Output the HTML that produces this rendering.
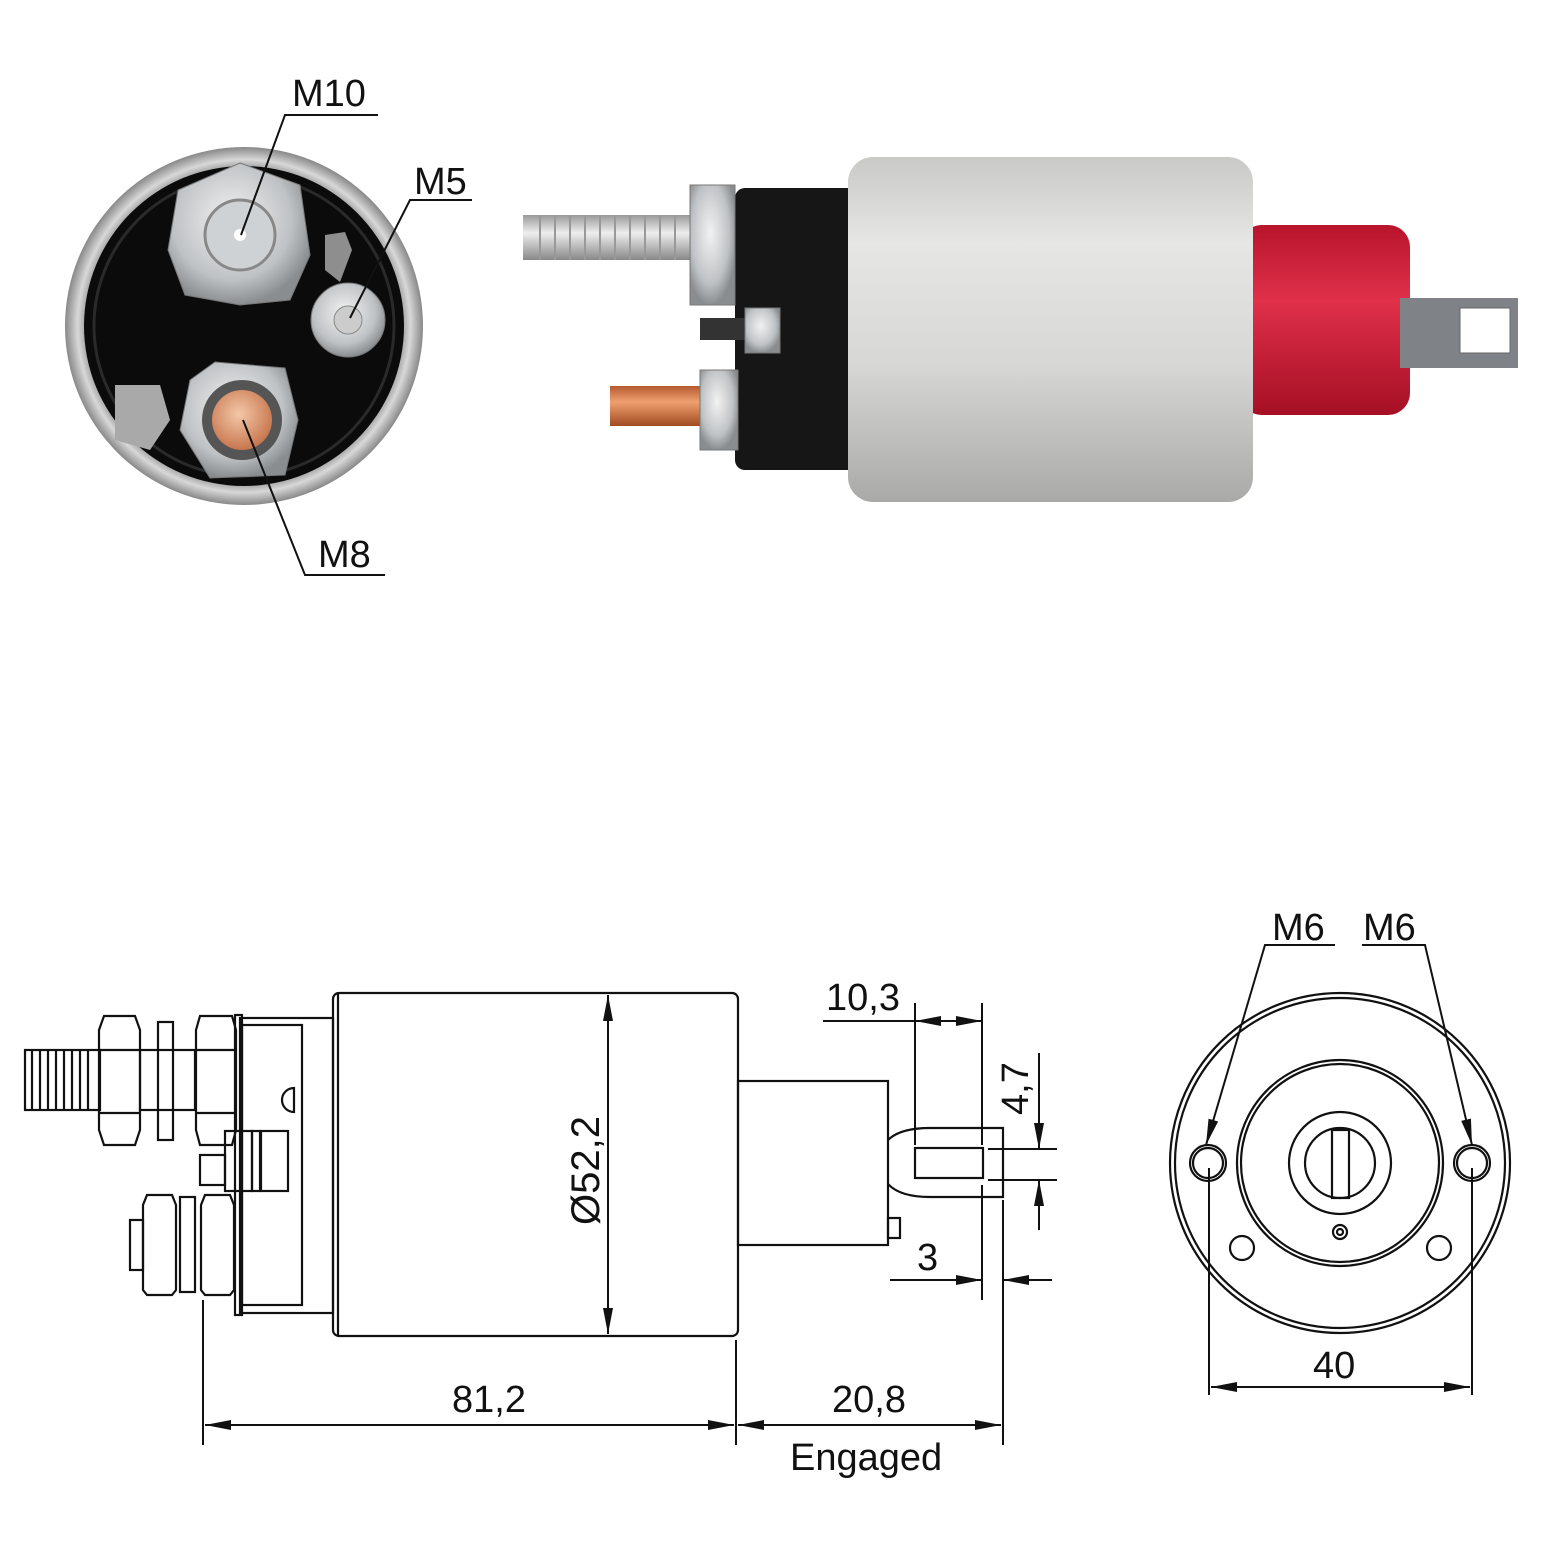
<!DOCTYPE html>
<html><head><meta charset="utf-8"><style>
html,body{margin:0;padding:0;background:#fff}
svg{display:block}
text{font-family:"Liberation Sans",sans-serif;fill:#111}
</style></head><body>
<svg width="1550" height="1550" viewBox="0 0 1550 1550" xmlns="http://www.w3.org/2000/svg">
<defs>
<radialGradient id="rim" cx="50%" cy="50%" r="50%">
<stop offset="85%" stop-color="#777"/><stop offset="93%" stop-color="#d8d8d8"/><stop offset="100%" stop-color="#888"/>
</radialGradient>
<radialGradient id="nut" cx="45%" cy="40%" r="60%">
<stop offset="0%" stop-color="#f2f2f2"/><stop offset="70%" stop-color="#bfc2c5"/><stop offset="100%" stop-color="#8a8d90"/>
</radialGradient>
<radialGradient id="cu" cx="45%" cy="40%" r="60%">
<stop offset="0%" stop-color="#f3c8a8"/><stop offset="100%" stop-color="#c8764f"/>
</radialGradient>
<linearGradient id="body" x1="0" y1="0" x2="0" y2="1">
<stop offset="0%" stop-color="#c9c9c7"/><stop offset="25%" stop-color="#e6e6e4"/><stop offset="60%" stop-color="#d7d7d5"/><stop offset="100%" stop-color="#a9a9a7"/>
</linearGradient>
<linearGradient id="red" x1="0" y1="0" x2="0" y2="1">
<stop offset="0%" stop-color="#b8142c"/><stop offset="40%" stop-color="#e0304a"/><stop offset="100%" stop-color="#a50f24"/>
</linearGradient>
<linearGradient id="stud" x1="0" y1="0" x2="0" y2="1">
<stop offset="0%" stop-color="#999"/><stop offset="40%" stop-color="#eee"/><stop offset="100%" stop-color="#888"/>
</linearGradient>
<linearGradient id="cust" x1="0" y1="0" x2="0" y2="1">
<stop offset="0%" stop-color="#b45a30"/><stop offset="40%" stop-color="#f0a070"/><stop offset="100%" stop-color="#a04a20"/>
</linearGradient>
<marker id="ar" viewBox="0 0 26 10" refX="26" refY="5" markerWidth="26" markerHeight="10" preserveAspectRatio="none" orient="auto-start-reverse" markerUnits="userSpaceOnUse"><path d="M0,0 L26,5 L0,10 z" fill="#111"/></marker>
</defs>

<circle cx="244" cy="326" r="179" fill="url(#rim)"/>
<circle cx="244" cy="326" r="160" fill="#0b0b0b"/>
<circle cx="244" cy="326" r="150" fill="none" stroke="#2a2a2a" stroke-width="3"/>
<polygon points="240,163 300,185 310,255 290,300 240,305 185,295 168,250 178,190" fill="url(#nut)" stroke="#777"/>
<circle cx="240" cy="235" r="35" fill="#cfd2d4" stroke="#888" stroke-width="3"/>
<circle cx="240" cy="235" r="6" fill="#fff"/>
<path d="M325,235 L345,232 L352,250 L340,282 L325,270 Z" fill="#8e8e8e"/>
<circle cx="348" cy="320" r="37" fill="url(#nut)" stroke="#777"/>
<circle cx="348" cy="320" r="14" fill="#ccc" stroke="#888"/>
<path d="M115,385 L160,385 L170,420 L150,450 L115,440 Z" fill="#a9a9a9"/>
<polygon points="215,362 285,368 298,420 285,475 210,478 180,430 190,380" fill="url(#nut)" stroke="#777"/>
<circle cx="242" cy="420" r="40" fill="#555"/>
<circle cx="242" cy="420" r="30" fill="url(#cu)"/>

<g stroke="#111" stroke-width="2" fill="none">
<polyline points="378,115 285,115 241,235"/>
<polyline points="472,200 410,200 350,318"/>
<polyline points="385,575 305,575 243,420"/>
</g>
<text x="292" y="106" font-size="38">M10</text>
<text x="414" y="194" font-size="38">M5</text>
<text x="318" y="567" font-size="38">M8</text>

<rect x="1240" y="225" width="170" height="190" rx="22" fill="url(#red)"/>
<rect x="1400" y="298" width="118" height="70" fill="#7f8286"/>
<rect x="1460" y="308" width="50" height="45" fill="#fff" stroke="#666"/>
<rect x="735" y="188" width="125" height="282" rx="10" fill="#161616"/>
<rect x="848" y="157" width="405" height="345" rx="25" fill="url(#body)"/>
<rect x="523" y="215" width="180" height="45" fill="url(#stud)"/>
<g stroke="#999" stroke-width="2">
<line x1="540" y1="215" x2="540" y2="260"/><line x1="555" y1="215" x2="555" y2="260"/><line x1="570" y1="215" x2="570" y2="260"/><line x1="585" y1="215" x2="585" y2="260"/><line x1="600" y1="215" x2="600" y2="260"/><line x1="615" y1="215" x2="615" y2="260"/><line x1="630" y1="215" x2="630" y2="260"/><line x1="645" y1="215" x2="645" y2="260"/><line x1="660" y1="215" x2="660" y2="260"/><line x1="675" y1="215" x2="675" y2="260"/>
</g>
<rect x="690" y="185" width="45" height="120" fill="url(#nut)" stroke="#777"/>
<rect x="700" y="318" width="60" height="22" fill="#333"/>
<rect x="745" y="308" width="35" height="45" fill="url(#nut)" stroke="#777"/>
<rect x="610" y="386" width="95" height="40" fill="url(#cust)"/>
<rect x="700" y="370" width="38" height="80" fill="url(#nut)" stroke="#777"/>

<g stroke="#111" stroke-width="2.2" fill="none">
<rect x="333" y="993" width="405" height="343" rx="6"/>
<line x1="338" y1="993" x2="338" y2="1336"/>
<rect x="240" y="1018" width="93" height="295"/>
<rect x="242" y="1025" width="60" height="280"/>
<rect x="235" y="1015" width="7" height="300"/>
<rect x="25" y="1050" width="75" height="60"/>
<path d="M32,1050 v60 M40,1050 v60 M48,1050 v60 M56,1050 v60 M64,1050 v60 M72,1050 v60 M80,1050 v60 M88,1050 v60"/>
<polygon points="104,1016 135,1016 140,1030 140,1130 135,1145 104,1145 99,1130 99,1030"/>
<line x1="99" y1="1050" x2="140" y2="1050"/><line x1="99" y1="1113" x2="140" y2="1113"/>
<rect x="140" y="1050" width="55" height="60"/>
<rect x="158" y="1022" width="15" height="118"/>
<polygon points="200,1016 232,1016 236,1030 236,1130 232,1145 200,1145 196,1130 196,1030"/>
<line x1="196" y1="1050" x2="236" y2="1050"/><line x1="196" y1="1113" x2="236" y2="1113"/>
<rect x="225" y="1131" width="27" height="60"/>
<rect x="252" y="1131" width="8" height="60"/>
<rect x="261" y="1131" width="27" height="60"/>
<rect x="200" y="1155" width="25" height="30"/>
<polygon points="147,1195 172,1195 176,1205 176,1290 172,1295 147,1295 143,1290 143,1205"/>
<rect x="130" y="1220" width="13" height="50"/>
<rect x="180" y="1197" width="15" height="95"/>
<polygon points="205,1195 230,1195 234,1205 234,1290 230,1295 205,1295 201,1290 201,1205"/>
<path d="M282,1100 a12,12 0 0 1 12,-12 v24 a12,12 0 0 1 -12,-12z"/>
<rect x="738" y="1081" width="150" height="164"/>
<rect x="888" y="1218" width="12" height="20"/>
<path d="M888,1140 Q900,1128 930,1128 L1003,1128 L1003,1197 L930,1197 Q900,1197 888,1184"/>
<rect x="915" y="1148" width="68" height="30"/>
</g>
<g stroke="#111" stroke-width="2" fill="none">
<line x1="608" y1="995" x2="608" y2="1334" marker-start="url(#ar)" marker-end="url(#ar)"/>
<line x1="203" y1="1300" x2="203" y2="1445"/>
<line x1="736" y1="1340" x2="736" y2="1445"/>
<line x1="1003" y1="1200" x2="1003" y2="1445"/>
<line x1="205" y1="1425" x2="734" y2="1425" marker-start="url(#ar)" marker-end="url(#ar)"/>
<line x1="738" y1="1425" x2="1001" y2="1425" marker-start="url(#ar)" marker-end="url(#ar)"/>
<line x1="915" y1="1003" x2="915" y2="1145"/>
<line x1="982" y1="1003" x2="982" y2="1145"/>
<line x1="982" y1="1185" x2="982" y2="1300"/>
<line x1="823" y1="1021" x2="915" y2="1021"/>
<line x1="915" y1="1021" x2="948" y2="1021" marker-start="url(#ar)"/>
<line x1="948" y1="1021" x2="982" y2="1021" marker-end="url(#ar)"/>
<line x1="988" y1="1149" x2="1057" y2="1149"/>
<line x1="988" y1="1180" x2="1057" y2="1180"/>
<line x1="1039" y1="1053" x2="1039" y2="1149" marker-end="url(#ar)"/>
<line x1="1039" y1="1230" x2="1039" y2="1180" marker-end="url(#ar)"/>
<line x1="890" y1="1280" x2="982" y2="1280" marker-end="url(#ar)"/>
<line x1="1052" y1="1280" x2="1003" y2="1280" marker-end="url(#ar)"/>
</g>
<text x="0" y="0" font-size="40" transform="translate(599,1225) rotate(-90)">Ø52,2</text>
<text x="452" y="1412" font-size="38">81,2</text>
<text x="832" y="1412" font-size="38">20,8</text>
<text x="790" y="1470" font-size="38">Engaged</text>
<text x="826" y="1010" font-size="38">10,3</text>
<text x="0" y="0" font-size="38" transform="translate(1028,1115) rotate(-90)">4,7</text>
<text x="917" y="1270" font-size="38">3</text>

<g stroke="#111" stroke-width="2.2" fill="none">
<circle cx="1340" cy="1163" r="170"/>
<circle cx="1340" cy="1163" r="165"/>
<circle cx="1340" cy="1163" r="103"/>
<circle cx="1340" cy="1163" r="99"/>
<circle cx="1340" cy="1163" r="51"/>
<circle cx="1340" cy="1163" r="35"/>
<rect x="1332" y="1130" width="17" height="68"/>
<circle cx="1340" cy="1232" r="7"/><circle cx="1340" cy="1232" r="3"/>
<circle cx="1208" cy="1163" r="18"/><circle cx="1208" cy="1163" r="15"/>
<circle cx="1472" cy="1163" r="18"/><circle cx="1472" cy="1163" r="15"/>
<circle cx="1242" cy="1248" r="12"/>
<circle cx="1439" cy="1248" r="12"/>
</g>
<g stroke="#111" stroke-width="2" fill="none">
<polyline points="1335,945 1265,945 1206,1145" marker-end="url(#ar)"/>
<polyline points="1362,945 1425,945 1472,1145" marker-end="url(#ar)"/>
<line x1="1209" y1="1168" x2="1209" y2="1395"/>
<line x1="1472" y1="1168" x2="1472" y2="1395"/>
<line x1="1211" y1="1387" x2="1470" y2="1387" marker-start="url(#ar)" marker-end="url(#ar)"/>
</g>
<text x="1272" y="940" font-size="38">M6</text>
<text x="1363" y="940" font-size="38">M6</text>
<text x="1313" y="1378" font-size="38">40</text>
</svg>
</body></html>
